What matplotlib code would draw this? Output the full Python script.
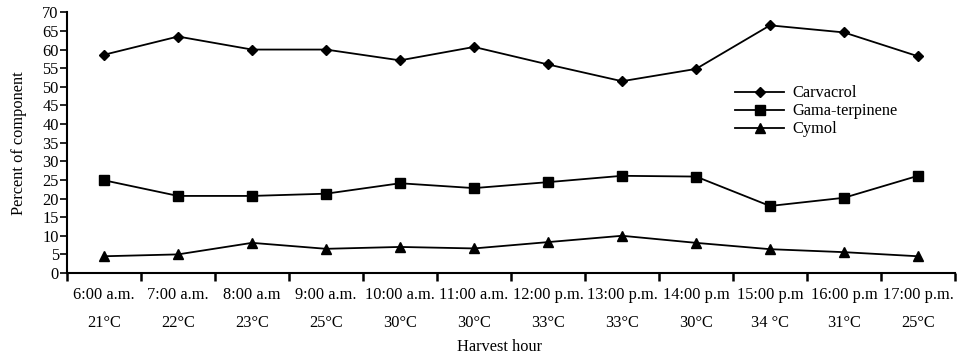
import numpy as np
import matplotlib.pyplot as plt

plt.rcParams['font.family'] = ['Liberation Serif', 'DejaVu Serif']

hours = ['6:00 a.m.', '7:00 a.m.', '8:00 a.m', '9:00 a.m.', '10:00 a.m.', '11:00 a.m.',
         '12:00 p.m.', '13:00 p.m.', '14:00 p.m', '15:00 p.m', '16:00 p.m', '17:00 p.m.']
temps = ['21°C', '22°C', '23°C', '25°C', '30°C', '30°C',
         '33°C', '33°C', '30°C', '34 °C', '31°C', '25°C']

carvacrol = [58.6, 63.5, 60.0, 60.0, 57.1, 60.7, 56.0, 51.5, 54.8, 66.5, 64.6, 58.2]
gama_terpinene = [24.9, 20.7, 20.7, 21.3, 24.1, 22.8, 24.4, 26.1, 25.9, 18.0, 20.2, 26.1]
cymol = [4.5, 5.0, 8.1, 6.5, 7.0, 6.6, 8.3, 10.0, 8.1, 6.4, 5.6, 4.5]

x = np.arange(len(hours)) + 0.5

fig = plt.figure(figsize=(9.59, 3.56), dpi=100)
ax = fig.add_axes([0.0699, 0.2331, 0.9259, 0.7323])

ax.plot(x, carvacrol, color='black', lw=1.3, marker='D', ms=5.5, label='Carvacrol')
ax.plot(x, gama_terpinene, color='black', lw=1.3, marker='s', ms=7.5, label='Gama-terpinene')
ax.plot(x, cymol, color='black', lw=1.3, marker='^', ms=7.5, label='Cymol')

ax.set_xlim(0, 12)
ax.set_ylim(0, 70)
ax.set_yticks(np.arange(0, 71, 5))
ax.set_xticks(np.arange(0, 13))
ax.set_xticklabels([])
ax.set_xticks(x, minor=True)
ax.set_xticklabels([h + '\n' + t for h, t in zip(hours, temps)], minor=True, linespacing=2.0)
ax.tick_params(axis='x', which='major', direction='out', length=6, width=1.8)
ax.tick_params(axis='x', which='minor', length=0, pad=10, labelsize=11.8)
ax.tick_params(axis='y', direction='out', length=5, width=1.2, pad=1, labelsize=11.8)

for s in ['top', 'right']:
    ax.spines[s].set_visible(False)
for s in ['left', 'bottom']:
    ax.spines[s].set_linewidth(1.5)

ax.set_ylabel('Percent of component', fontsize=11.8, labelpad=11)
ax.set_xlabel('Harvest hour', fontsize=11.8)
ax.xaxis.set_label_coords(0.487, -0.255)

ax.legend(loc='upper left', bbox_to_anchor=(0.745, 0.745), frameon=False, fontsize=11.8,
          handlelength=3.0, handletextpad=0.5, labelspacing=0.12, borderaxespad=0)

plt.savefig('out.png', dpi=100)
